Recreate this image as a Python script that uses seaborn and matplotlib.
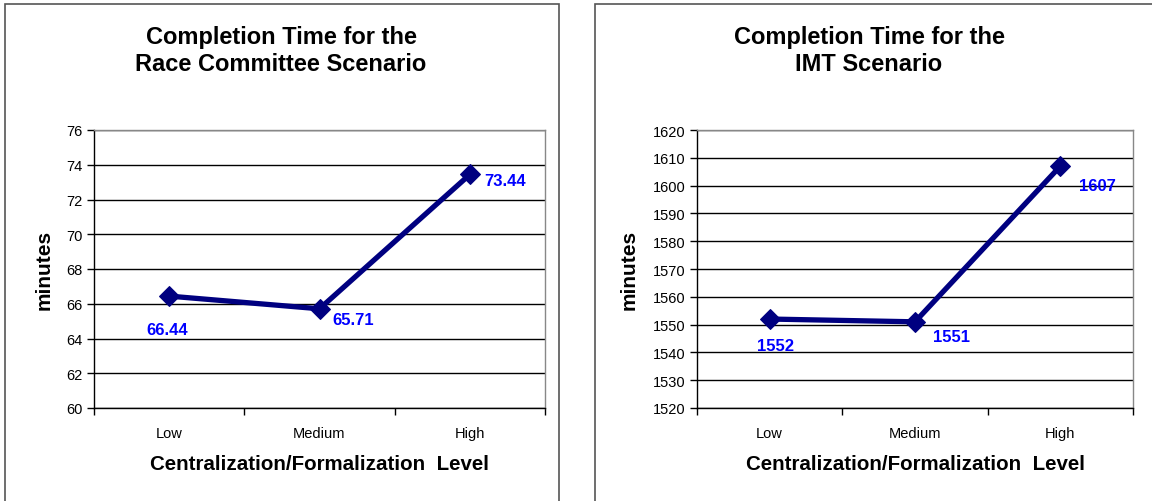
import matplotlib
matplotlib.use("Agg")
import matplotlib.pyplot as plt
from matplotlib.patches import Rectangle
import seaborn as sns
import pandas as pd

# data
levels = ["Low", "Medium", "High"]
race_minutes = [66.44, 65.71, 73.44]
race_labels = ["66.44", "65.71", "73.44"]
imt_minutes = [1552, 1551, 1607]
imt_labels = ["1552", "1551", "1607"]

sns.set_theme(style="white")
plt.rcParams["font.family"] = ["Liberation Sans", "DejaVu Sans"]
plt.rcParams["text.color"] = "black"
plt.rcParams["axes.labelcolor"] = "black"

fig = plt.figure(figsize=(11.52, 5.02), dpi=100)

# panel frames like the chart objects in the original
fig.add_artist(Rectangle((5 / 1152, -0.05), 554 / 1152, 1.05 - 5 / 502,
                         transform=fig.transFigure, fill=False,
                         edgecolor="#555555", linewidth=1.2))
fig.add_artist(Rectangle((595 / 1152, -0.05), 0.6, 1.05 - 5 / 502,
                         transform=fig.transFigure, fill=False,
                         edgecolor="#555555", linewidth=1.2))


def panel(rect, values, labels, ylim, ystep, title, title_x, offsets, ylab_x):
    ax = fig.add_axes(rect)
    df = pd.DataFrame({"level": levels, "minutes": values})
    sns.lineplot(data=df, x="level", y="minutes", ax=ax, color="#000080",
                 linewidth=3.8, marker="D", markersize=10,
                 markeredgecolor="#000080", sort=False)
    ax.set_xlim(-0.5, len(levels) - 0.5)
    ax.set_ylim(*ylim)
    ax.set_yticks(range(ylim[0], ylim[1] + 1, ystep))
    ax.yaxis.grid(True, color="black", linewidth=1)
    ax.set_axisbelow(True)
    ax.set_xticks(range(len(levels)))
    ax.set_xticklabels(levels)
    ax.set_xticks([i - 0.5 for i in range(len(levels) + 1)], minor=True)
    ax.tick_params(axis="x", which="major", length=0, labelsize=10.5, pad=13,
                   colors="black")
    ax.tick_params(axis="x", which="minor", length=5, width=1, direction="out",
                   bottom=True, color="black")
    ax.tick_params(axis="y", length=5, width=1, direction="out", left=True,
                   labelsize=10.5, colors="black", pad=3)
    for s in ax.spines.values():
        s.set_color("black")
        s.set_linewidth(1)
    ax.spines["top"].set_color("#888888")
    ax.spines["right"].set_color("#888888")
    ax.set_xlabel("Centralization/Formalization  Level", fontsize=14.8,
                  fontweight="bold", labelpad=10)
    ax.set_ylabel("minutes", fontsize=15, fontweight="bold")
    ax.yaxis.set_label_coords(ylab_x, 0.5)
    for i, (v, lab) in enumerate(zip(values, labels)):
        ax.annotate(lab, (i, v), xytext=offsets[i], textcoords="offset pixels",
                    ha="center", va="center", color="#0000FF",
                    fontsize=12, fontweight="bold")
    fig.text(title_x, 1 - 51 / 502, title, ha="center", va="center",
             fontsize=17, fontweight="bold", linespacing=1.25)
    return ax


panel([94 / 1152, 93 / 502, 451 / 1152, 278 / 502], race_minutes, race_labels,
      (60, 76), 2, "Completion Time for the\nRace Committee Scenario",
      281 / 1152, [(-2, -33), (34, -11), (35, -6)], -0.0887)
panel([697 / 1152, 93 / 502, 436 / 1152, 278 / 502], imt_minutes, imt_labels,
      (1520, 1620), 10, "Completion Time for the\nIMT Scenario",
      869 / 1152, [(6, -26), (36, -15), (37, -19)], -0.133)

fig.savefig("out.png", dpi=100)
